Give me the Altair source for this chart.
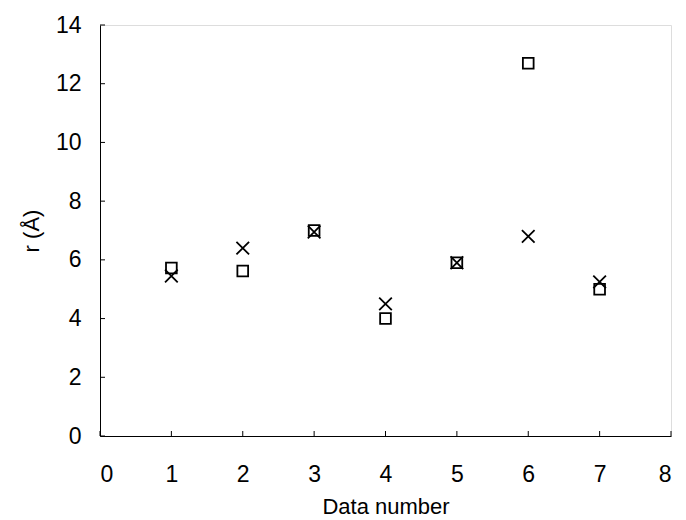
import altair as alt
import pandas as pd

data_number = [1, 2, 3, 4, 5, 6, 7]
r_square = [5.72, 5.62, 7.0, 4.0, 5.9, 12.7, 5.0]
r_cross = [5.45, 6.4, 6.95, 4.5, 5.9, 6.8, 5.25]
x_ticks = [0, 1, 2, 3, 4, 5, 6, 7, 8]
y_ticks = [0, 2, 4, 6, 8, 10, 12, 14]

W, H = 571, 411
FONT = "Liberation Sans"

sq = pd.DataFrame({"n": data_number, "r": r_square})
cr = pd.DataFrame({"n": data_number, "r": r_cross})
xt = pd.DataFrame({"t": x_ticks})
yt = pd.DataFrame({"t": y_ticks})

xscale = alt.Scale(domain=[0, 8], nice=False, zero=False)
yscale = alt.Scale(domain=[0, 14], nice=False, zero=False)

xaxis = alt.Axis(values=x_ticks, format="d", title="Data number", grid=False, tickSize=0,
                 labelPadding=27, labelFontSize=23, titleFontSize=22,
                 labelFont=FONT, titleFont=FONT, titleFontWeight="normal",
                 domainColor="black", labelColor="black", titleColor="black",
                 titlePadding=10, domainWidth=1)
yaxis = alt.Axis(values=y_ticks, format="d", title="r (Å)", grid=False, tickSize=0,
                 labelPadding=19, labelFontSize=23, titleFontSize=22,
                 labelFont=FONT, titleFont=FONT, titleFontWeight="normal",
                 domainColor="black", labelColor="black", titleColor="black",
                 titlePadding=12, domainWidth=1)

squares = alt.Chart(sq).mark_point(shape="square", filled=False, size=115,
                                   stroke="black", strokeWidth=1.8, opacity=1).encode(
    x=alt.X("n:Q", scale=xscale, axis=xaxis),
    y=alt.Y("r:Q", scale=yscale, axis=yaxis),
)

crosses = alt.Chart(cr).mark_point(shape="M-1,-1L1,1M-1,1L1,-1", filled=False, size=160,
                                   stroke="black", strokeWidth=1.8, opacity=1).encode(
    x=alt.X("n:Q", scale=xscale),
    y=alt.Y("r:Q", scale=yscale),
)

xtick_marks = alt.Chart(xt).mark_rule(color="black", strokeWidth=1).encode(
    x=alt.X("t:Q", scale=xscale),
    y=alt.value(H),
    y2=alt.value(H - 5),
)
ytick_marks = alt.Chart(yt).mark_rule(color="black", strokeWidth=1).encode(
    y=alt.Y("t:Q", scale=yscale),
    x=alt.value(0),
    x2=alt.value(5),
)

chart = alt.layer(xtick_marks, ytick_marks, squares, crosses).properties(
    width=W, height=H,
    padding={"left": 92, "top": 17, "right": 7, "bottom": 82},
    autosize=alt.AutoSizeParams(type="none"),
).configure_view(stroke=None).configure(background="white")

chart.save("out.html", embed_options={"renderer": "svg", "actions": False})
